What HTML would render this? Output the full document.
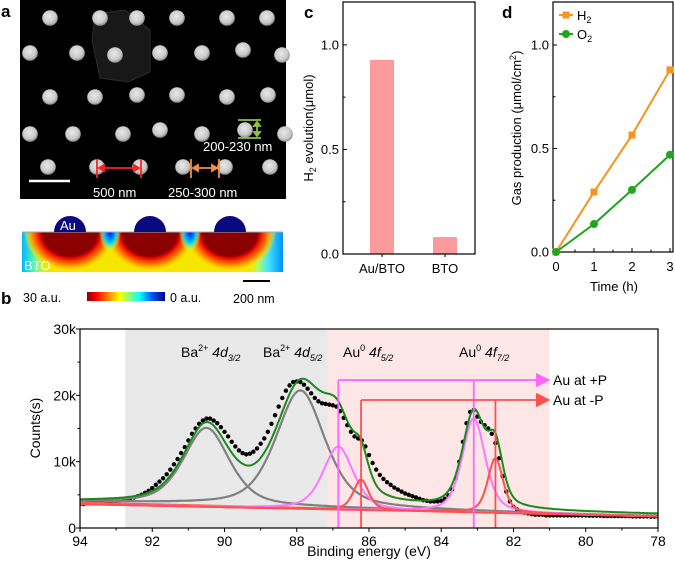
<!DOCTYPE html>
<html><head><meta charset="utf-8"><style>
html,body{margin:0;padding:0;background:#fff;}
svg{display:block;font-family:"Liberation Sans",Arial,sans-serif;}
</style></head><body>
<svg id="fig" width="675" height="569" viewBox="0 0 675 569" xmlns="http://www.w3.org/2000/svg">
<defs>
<radialGradient id="dotg" cx="0.45" cy="0.4" r="0.6"><stop offset="0" stop-color="#e8e8e8"/><stop offset="0.7" stop-color="#c8c8c8"/><stop offset="1" stop-color="#8a8a8a"/></radialGradient>
<radialGradient id="hot" cx="0.5" cy="0.5" r="0.5">
<stop offset="0" stop-color="#8b0000"/><stop offset="0.6" stop-color="#8b0000"/><stop offset="0.64" stop-color="#cc0000"/><stop offset="0.72" stop-color="#ff3000"/><stop offset="0.83" stop-color="#ff9000"/><stop offset="0.93" stop-color="#ffd000" stop-opacity="0.6"/><stop offset="1" stop-color="#ffee00" stop-opacity="0"/></radialGradient>
<radialGradient id="cold" cx="0.5" cy="0.5" r="0.5">
<stop offset="0" stop-color="#0020e0"/><stop offset="0.3" stop-color="#0070ff"/><stop offset="0.55" stop-color="#00d0ff"/><stop offset="0.8" stop-color="#80ff80" stop-opacity="0.5"/><stop offset="1" stop-color="#ffff00" stop-opacity="0"/></radialGradient>
<linearGradient id="edgeL" x1="0" x2="1"><stop offset="0" stop-color="#00b8ff"/><stop offset="0.45" stop-color="#60ffa0"/><stop offset="1" stop-color="#ffee00" stop-opacity="0"/></linearGradient>
<linearGradient id="edgeR" x1="1" x2="0"><stop offset="0" stop-color="#0090ff"/><stop offset="0.4" stop-color="#40e0ff"/><stop offset="0.7" stop-color="#a0ff80"/><stop offset="1" stop-color="#ffee00" stop-opacity="0"/></linearGradient>
<linearGradient id="cbar" x1="0" x2="1"><stop offset="0" stop-color="#8b0000"/><stop offset="0.12" stop-color="#ff0000"/><stop offset="0.3" stop-color="#ff9900"/><stop offset="0.42" stop-color="#ffff00"/><stop offset="0.55" stop-color="#80ff80"/><stop offset="0.68" stop-color="#00ffff"/><stop offset="0.82" stop-color="#0060ff"/><stop offset="1" stop-color="#00008b"/></linearGradient>
<clipPath id="fclip"><rect x="22" y="232" width="261" height="40"/></clipPath>
<clipPath id="bclip"><rect x="80" y="329" width="578" height="199"/></clipPath>
<marker id="arrM" markerWidth="8" markerHeight="8" refX="7" refY="4" orient="auto"><path d="M0,0 L8,4 L0,8 Z" fill="#ff66ff"/></marker>
<marker id="arrR" markerWidth="8" markerHeight="8" refX="7" refY="4" orient="auto"><path d="M0,0 L8,4 L0,8 Z" fill="#ff5050"/></marker>
</defs>

<!-- Panel a -->
<text x="1" y="17" font-size="17" font-weight="bold">a</text>
<g>
<rect x="20" y="0" width="266" height="199" fill="#000"/>
<polygon points="95,14 125,10 150,30 150,72 128,82 100,78 92,40" fill="#181818" stroke="#2a2a2a" stroke-width="1"/>
<g id="semdots"></g>
<line x1="29" y1="181" x2="70" y2="181" stroke="#fff" stroke-width="2.5"/>
<g stroke="#ff2020" stroke-width="1.8">
<line x1="97" y1="159" x2="97" y2="178"/><line x1="141" y1="159" x2="141" y2="178"/><line x1="99" y1="168" x2="139" y2="168"/>
<path d="M99,168 l5,-3 v6 z M139,168 l-5,-3 v6 z" fill="#ff2020"/></g>
<g stroke="#f39040" stroke-width="1.8">
<line x1="191" y1="159" x2="191" y2="178"/><line x1="219" y1="159" x2="219" y2="178"/><line x1="193" y1="168" x2="217" y2="168"/>
<path d="M193,168 l5,-3 v6 z M217,168 l-5,-3 v6 z" fill="#f39040"/></g>
<g stroke="#8cc63f" stroke-width="1.8">
<line x1="238" y1="120" x2="261" y2="120"/><line x1="238" y1="138" x2="261" y2="138"/><line x1="257" y1="122" x2="257" y2="136"/>
<path d="M257,122 l-3,4 h6 z M257,136 l-3,-4 h6 z" fill="#8cc63f"/></g>
<text x="93" y="197" font-size="13" fill="#fff">500 nm</text>
<text x="168" y="197" font-size="13" fill="#fff">250-300 nm</text>
<text x="203" y="151" font-size="13" fill="#fff">200-230 nm</text>
</g>
<g>
<g clip-path="url(#fclip)">
<rect x="22" y="232" width="261" height="40" fill="#f5e600"/>
<rect x="22" y="232" width="30" height="40" fill="url(#edgeL)"/>
<rect x="248" y="232" width="35" height="40" fill="url(#edgeR)"/>
<ellipse cx="70" cy="232" rx="46" ry="40" fill="url(#hot)"/>
<ellipse cx="150" cy="232" rx="46" ry="40" fill="url(#hot)"/>
<ellipse cx="230" cy="232" rx="46" ry="40" fill="url(#hot)"/>
<ellipse cx="110" cy="232" rx="11" ry="20" fill="url(#cold)"/>
<ellipse cx="190" cy="232" rx="11" ry="20" fill="url(#cold)"/>
</g>
<line x1="22" y1="232" x2="283" y2="232" stroke="#9ab" stroke-width="1"/>
<path d="M54,232 A16,16 0 0 1 86,232 Z M134,232 A16,16 0 0 1 166,232 Z M214,232 A16,16 0 0 1 246,232 Z" fill="#0a0a80"/>
<text x="60" y="230" font-size="13" fill="#fff">Au</text>
<text x="24" y="270" font-size="13" fill="#fff">BTO</text>
</g>
<text x="23" y="302" font-size="12.5">30 a.u.</text>
<rect x="87" y="292" width="78" height="9" fill="url(#cbar)"/>
<text x="170" y="302" font-size="12.5">0 a.u.</text>
<line x1="243" y1="281" x2="270" y2="281" stroke="#000" stroke-width="2"/>
<text x="233" y="303" font-size="12.5">200 nm</text>

<!-- Panel c -->
<text x="304" y="18" font-size="17" font-weight="bold">c</text>
<g id="pc"></g>
<!-- Panel d -->
<text x="502" y="18" font-size="17" font-weight="bold">d</text>
<g id="pd"></g>
<!-- Panel b -->
<text x="1" y="304" font-size="17" font-weight="bold">b</text>
<g id="pb"></g>
</svg>
<script>
const NS="http://www.w3.org/2000/svg";
function mk(p,t,a){const e=document.createElementNS(NS,t);for(const k in a)e.setAttribute(k,a[k]);p.appendChild(e);return e;}

// SEM dots
const semX=[50,100,137,177,227,267, 30,77,115,160,202,243,282, 50,95,137,177,227,268, 30,73,123,160,202,245,285, 48,97,140,183,225,270];
const semY=[18,18,18,18,18,18, 53,53,55,53,53,50,55, 97,97,95,95,97,95, 134,134,134,130,134,130,134, 167,167,167,167,167,167];
const sd=document.getElementById('semdots');
semX.forEach((x,i)=>{const c=mk(sd,'circle',{cx:x,cy:semY[i],r:7.8,fill:'url(#dotg)'});

});

// ---------- Panel c ----------
const cCats=["Au/BTO","BTO"];
const cVals=[0.928,0.081];
const cTicks=[0.0,0.5,1.0];
const cTickLabels=["0.0","0.5","1.0"];
(function(){
 const g=document.getElementById('pc');
 const L=343,R=475,T=2,B=254,ymax=1.205;
 const y=v=>B-(v/ymax)*(B-T);
 const xc=i=>[382,445][i];
 cVals.forEach((v,i)=>{const r=mk(g,'rect',{x:xc(i)-12,y:y(v),width:24,height:B-y(v),fill:'#fb9a9a'});
 
 });
 mk(g,'rect',{x:L,y:T,width:R-L,height:B-T,fill:'none',stroke:'#000','stroke-width':1.2});
 for(let v=0;v<=1.2;v+=0.25){const big=Math.abs(v*2-Math.round(v*2))<1e-6;mk(g,'line',{x1:L,x2:L+(big?4:2.5),y1:y(v),y2:y(v),stroke:'#000'});}
 cTicks.forEach((v,i)=>{const t=mk(g,'text',{x:L-4,y:y(v)+4.5,'font-size':13,'text-anchor':'end'});t.textContent=cTickLabels[i];
 });
 cCats.forEach((c,i)=>{mk(g,'line',{x1:xc(i),x2:xc(i),y1:B,y2:B+3,stroke:'#000'});const t=mk(g,'text',{x:xc(i),y:B+19,'font-size':13,'text-anchor':'middle'});t.textContent=c;
 });
 const yl=mk(g,'text',{transform:'translate(313,128) rotate(-90)','font-size':13,'text-anchor':'middle'});
 yl.innerHTML='H<tspan font-size="9" dy="3">2</tspan><tspan dy="-3"> evolution(μmol)</tspan>';
 
})();

// ---------- Panel d ----------
const dTimes=[0,1,2,3];
const dH2=[0,0.29,0.565,0.88];
const dO2=[0,0.135,0.30,0.47];
const dTicks=[0,0.5,1.0];
const dTickLabels=["0.0","0.5","1.0"];
(function(){
 const g=document.getElementById('pd');
 const L=553,R=673,T=2,B=252;
 const x=t=>556+t*38; const y=v=>B-v*207;
 mk(g,'rect',{x:L,y:T,width:R-L,height:B-T,fill:'none',stroke:'#000','stroke-width':1.2});
 for(let v=0;v<=1.2;v+=0.25){const big=Math.abs(v*2-Math.round(v*2))<1e-6;mk(g,'line',{x1:L,x2:L+(big?4:2.5),y1:y(v),y2:y(v),stroke:'#000'});}
 for(let t=0;t<=3;t+=0.5){mk(g,'line',{x1:x(t),x2:x(t),y1:B,y2:B-(t%1?2.5:4),stroke:'#000'});}
 dTicks.forEach((v,i)=>{const t=mk(g,'text',{x:L-4,y:y(v)+4.5,'font-size':13,'text-anchor':'end'});t.textContent=dTickLabels[i];
 });
 dTimes.forEach(tv=>{const t=mk(g,'text',{x:x(tv),y:B+19,'font-size':13,'text-anchor':'middle'});t.textContent=tv;
 });
 const ser=[[dH2,'#f7941d','h2','sq'],[dO2,'#1fa51f','o2','ci']];
 ser.forEach(([d,c,n,m])=>{
  const pl=mk(g,'polyline',{points:d.map((v,i)=>x(dTimes[i])+','+y(v)).join(' '),fill:'none',stroke:c,'stroke-width':2});
  
  d.forEach((v,i)=>{let e;if(m==='sq')e=mk(g,'rect',{x:x(dTimes[i])-3.5,y:y(v)-3.5,width:7,height:7,fill:c});else e=mk(g,'circle',{cx:x(dTimes[i]),cy:y(v),r:4,fill:c});
  });
 });
 const lg=mk(g,'g',{});
 mk(lg,'line',{x1:559,x2:573,y1:15,y2:15,stroke:'#f7941d','stroke-width':2});mk(lg,'rect',{x:562.5,y:11.5,width:7,height:7,fill:'#f7941d'});
 let t=mk(lg,'text',{x:577,y:20,'font-size':13});t.innerHTML='H<tspan font-size="9" dy="3">2</tspan>';
 mk(lg,'line',{x1:559,x2:573,y1:34,y2:34,stroke:'#1fa51f','stroke-width':2});mk(lg,'circle',{cx:566,cy:34,r:4,fill:'#1fa51f'});
 t=mk(lg,'text',{x:577,y:39,'font-size':13});t.innerHTML='O<tspan font-size="9" dy="3">2</tspan>';
 const xl=mk(g,'text',{x:614,y:291,'font-size':13,'text-anchor':'middle'});xl.textContent='Time (h)';
 
 const yl=mk(g,'text',{transform:'translate(521,128) rotate(-90)','font-size':13,'text-anchor':'middle'});
 yl.innerHTML='Gas production (μmol/cm<tspan font-size="9" dy="-5">2</tspan><tspan dy="5">)</tspan>';
 
})();

// ---------- Panel b ----------
const bXTicks=[94,92,90,88,86,84,82,80,78];
const bYTicks=[0,10,20,30];
const bYTickLabels=["0","10k","20k","30k"];
const grayCenters=[90.5,87.9];
const grayAmps=[11.6,17.6];
const grayWidths=[1.5,1.6];
const magCenters=[86.85,83.1];
const magAmps=[9.5,14.2];
const magWidths=[1.0,0.75];
const redCenters=[86.22,82.5];
const redAmps=[4.6,8.3];
const redWidths=[0.5,0.5];
const bgEnds=[3.6,1.75];
const dataCounts=[
3.6,3.6,3.7,3.7,3.8,3.8,3.9,3.9,4.0,4.0,4.1,
4.2,4.3,4.4,4.5,4.6,4.8,5.0,5.3,5.6,6.0,
6.5,7.0,7.5,8.1,8.8,9.6,10.4,11.3,12.2,13.2,
14.2,15.0,15.7,16.2,16.5,16.5,16.2,15.8,15.2,14.5,
13.8,13.0,12.3,11.7,11.3,11.1,11.2,11.5,12.0,12.7,
13.5,14.5,15.7,17.0,18.3,19.6,20.7,21.5,22.0,22.1,
22.0,21.6,21.0,20.3,19.6,19.1,18.8,18.7,18.6,18.5,
18.3,17.6,16.6,15.5,14.5,13.8,13.5,13.2,12.3,11.0,
9.8,8.8,8.0,7.4,6.9,6.5,6.1,5.8,5.5,5.2,
5.0,4.8,4.6,4.4,4.2,4.1,4.0,4.0,4.0,4.1,
4.4,4.9,5.8,7.5,10.0,13.0,15.8,17.5,17.8,16.8,
16.0,15.5,15.0,14.2,12.8,10.5,7.8,5.5,4.0,3.2,
2.8,2.5,2.3,2.2,2.1,2.0,2.0,2.0,1.9,1.9,
1.9,1.9,1.9,1.9,1.9,1.9,1.9,1.9,1.9,1.9,
1.85,1.85,1.85,1.85,1.8,1.8,1.8,1.8,1.8,1.8,
1.8,1.8,1.75,1.75,1.75,1.75,1.75,1.7,1.7,1.7,1.7];
(function(){
 const g=document.getElementById('pb');
 const L=80,R=658,T=329,B=528;
 const x=e=>L+(94-e)*(R-L)/16; const y=v=>B-v*(B-T)/30;
 let e=mk(g,'rect',{x:x(92.75),y:T,width:x(87.15)-x(92.75),height:B-T,fill:'#e9e9e9'});
 
 e=mk(g,'rect',{x:x(87.15),y:T,width:x(81)-x(87.15),height:B-T,fill:'#fde6e6'});
 
 const pv=(xx,c,a,w)=>{const d=(xx-c)/w;return a*(0.5/(1+4*d*d)+0.5*Math.exp(-4*Math.LN2*d*d));};
 const bg=xx=>bgEnds[1]+(xx-78)/16*(bgEnds[0]-bgEnds[1]);
 const cg=mk(g,'g',{'clip-path':'url(#bclip)'});
 function curve(fn,col,name,w){const pts=[];for(let k=0;k<=320;k++){const xx=94-k*0.05;pts.push(x(xx).toFixed(1)+','+y(fn(xx)).toFixed(1));}
  const p=mk(cg,'polyline',{points:pts.join(' '),fill:'none',stroke:col,'stroke-width':w||2});
  }
 dataCounts.forEach((v,i)=>{const c=mk(cg,'circle',{cx:x(94-i*0.1),cy:y(v),r:2.2,fill:'#000'});
 });
 curve(xx=>bg(xx)+0.25*(xx-78)/16,'#ff5a5a','background-line',2);
 grayCenters.forEach((c,i)=>curve(xx=>bg(xx)+0.4*(xx-78)/16+pv(xx,c,grayAmps[i],grayWidths[i]),'#808080','ba-peak-'+(i+1),2.2));
 magCenters.forEach((c,i)=>curve(xx=>bg(xx)+pv(xx,c,magAmps[i],magWidths[i]),'#ff77ff','au-plus-p-peak-'+(i+1),2));
 redCenters.forEach((c,i)=>curve(xx=>bg(xx)+pv(xx,c,redAmps[i],redWidths[i]),'#ff5050','au-minus-p-peak-'+(i+1),2));
 curve(xx=>{let s=bg(xx)+0.3;grayCenters.forEach((c,i)=>s+=pv(xx,c,grayAmps[i],grayWidths[i]));magCenters.forEach((c,i)=>s+=pv(xx,c,magAmps[i],magWidths[i]));redCenters.forEach((c,i)=>s+=pv(xx,c,redAmps[i],redWidths[i]));return s;},'#1a8a1a','envelope-fit',2);
 const hy1=y(22.3),hy2=y(19.3);
 e=mk(g,'path',{d:`M${x(magCenters[0])},${B} V${hy1} M${x(magCenters[1])},${B} V${hy1}`,fill:'none',stroke:'#ff66ff','stroke-width':1.8});
 
 mk(g,'line',{x1:x(magCenters[0]),y1:hy1,x2:x(81)-1,y2:hy1,stroke:'#ff66ff','stroke-width':1.8,'marker-end':'url(#arrM)'});
 e=mk(g,'path',{d:`M${x(redCenters[0])},${B} V${hy2} M${x(redCenters[1])},${B} V${hy2}`,fill:'none',stroke:'#ff5050','stroke-width':1.8});
 
 mk(g,'line',{x1:x(redCenters[0]),y1:hy2,x2:x(81)-1,y2:hy2,stroke:'#ff5050','stroke-width':1.8,'marker-end':'url(#arrR)'});
 mk(g,'rect',{x:L,y:T,width:R-L,height:B-T,fill:'none',stroke:'#000','stroke-width':1.2});
 for(let v=0;v<=30;v+=5){mk(g,'line',{x1:L,x2:L-(v%10?2.5:4),y1:y(v),y2:y(v),stroke:'#000'});}
 for(let ev=94;ev>=78;ev--){mk(g,'line',{x1:x(ev),x2:x(ev),y1:B,y2:B+(ev%2?2.5:4),stroke:'#000'});}
 bYTicks.forEach((v,i)=>{const t=mk(g,'text',{x:L-4,y:y(v)+5,'font-size':14,'text-anchor':'end'});t.textContent=bYTickLabels[i];
 });
 bXTicks.forEach(v=>{const t=mk(g,'text',{x:x(v),y:B+18,'font-size':14,'text-anchor':'middle'});t.textContent=v;
 });
 let t=mk(g,'text',{x:369,y:556,'font-size':14,'text-anchor':'middle'});t.textContent='Binding energy (eV)';
 
 t=mk(g,'text',{transform:'translate(40,428) rotate(-90)','font-size':14,'text-anchor':'middle'});t.textContent='Counts(s)';
 
 const lab=[[181,'Ba','2+','4d','3/2'],[263,'Ba','2+','4d','5/2'],[343,'Au','0','4f','5/2'],[459,'Au','0','4f','7/2']];
 lab.forEach(([lx,a,s,o,sub])=>{const tt=mk(g,'text',{x:lx,y:357,'font-size':14});
 tt.innerHTML=`${a}<tspan font-size="9" dy="-6">${s}</tspan><tspan dy="6" font-style="italic"> ${o}</tspan><tspan font-size="9" dy="4" font-style="italic">${sub}</tspan>`;
 });
 t=mk(g,'text',{x:553,y:385,'font-size':14});t.textContent='Au at +P';
 
 t=mk(g,'text',{x:553,y:405,'font-size':14});t.textContent='Au at -P';
 
})();
</script>
</body></html>
